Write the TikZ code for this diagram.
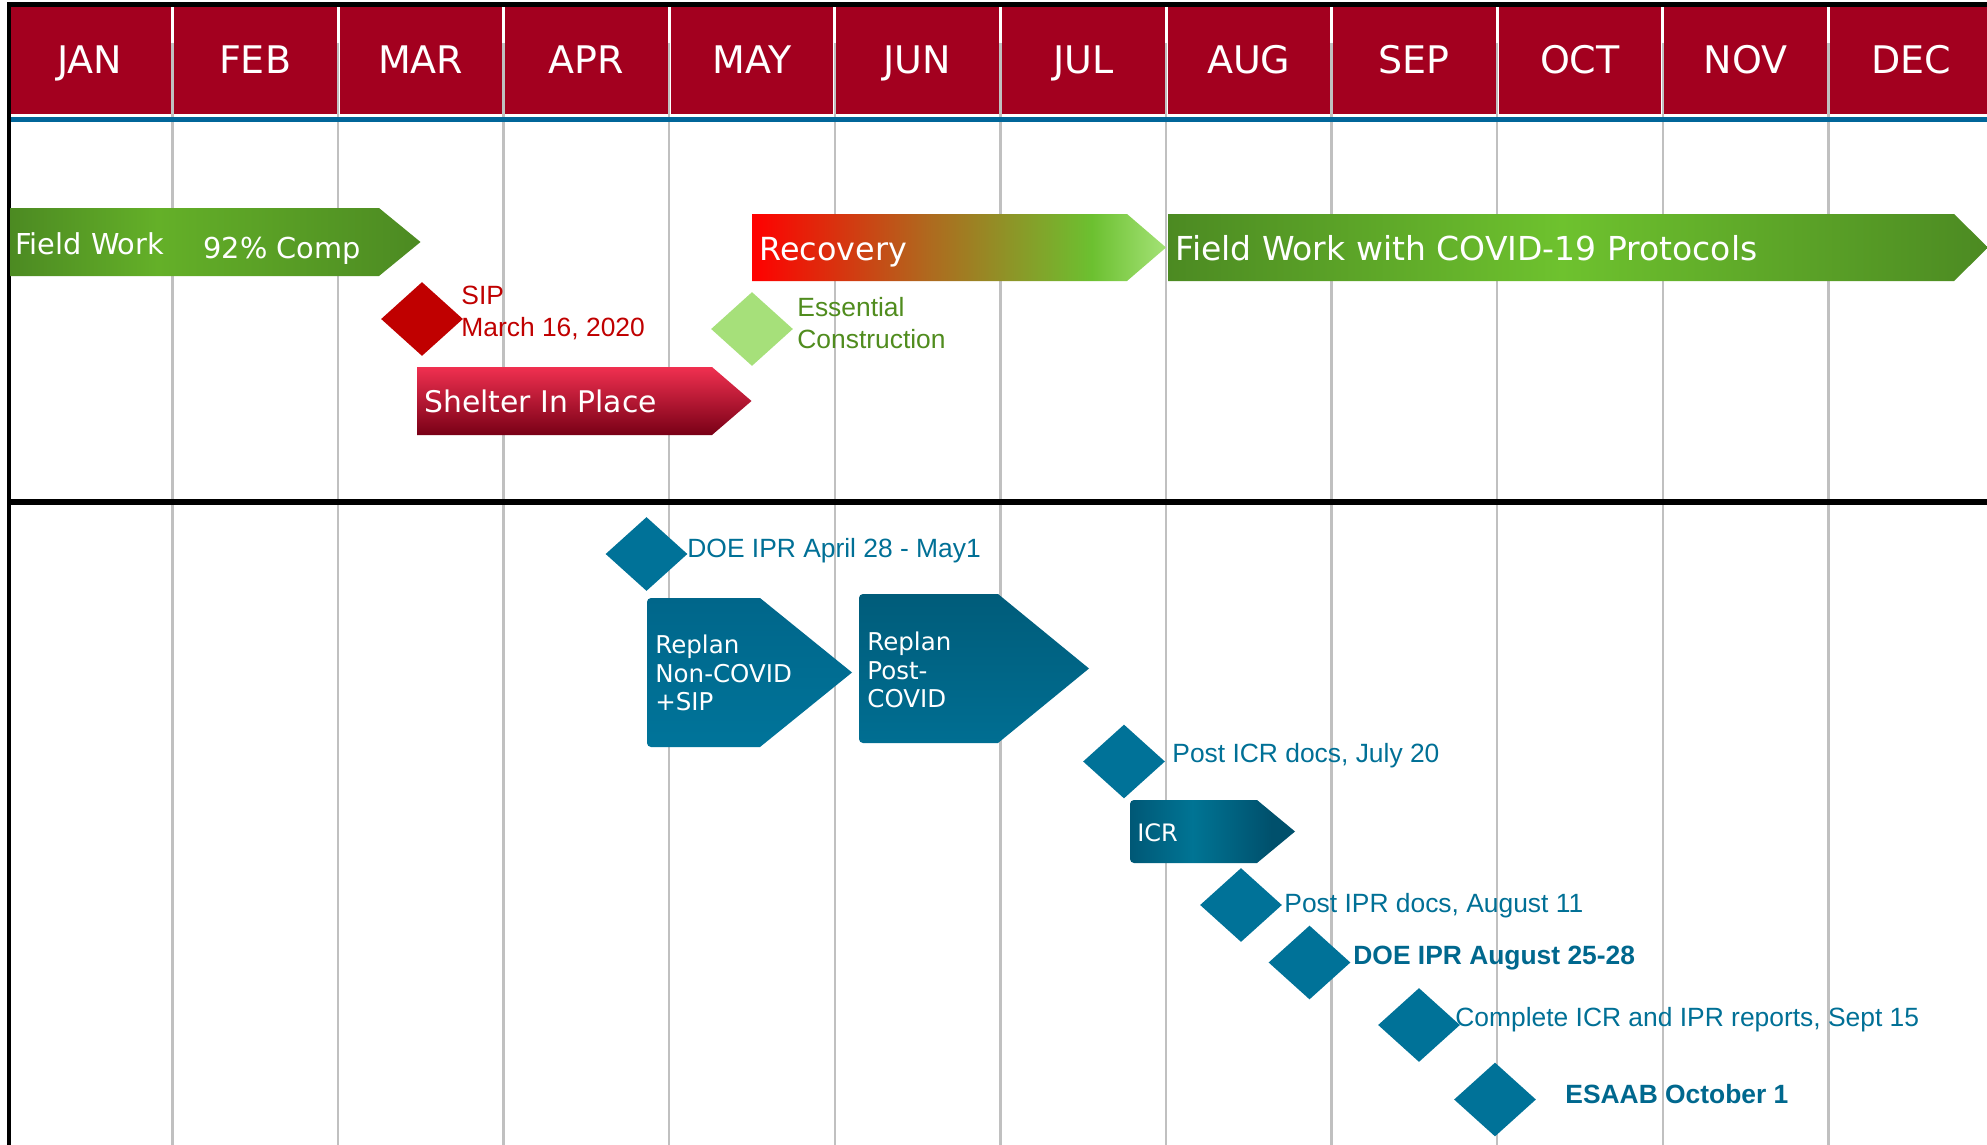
\documentclass[tikz,border=0pt]{standalone}
\usepackage{fontspec}
\setmainfont{Liberation Sans}
\newfontfamily\vfont{DejaVu Sans}
\usetikzlibrary{shapes.geometric}

% palette
\definecolor{hdrred}{RGB}{163,0,31}
\definecolor{rulebl}{RGB}{0,102,153}
\definecolor{gridgray}{RGB}{192,192,192}
\definecolor{fwdark}{RGB}{76,138,34}
\definecolor{fwlight}{RGB}{100,176,40}
\definecolor{fwbright}{RGB}{110,194,46}
\definecolor{recA}{RGB}{255,0,0}
\definecolor{recB}{RGB}{176,104,30}
\definecolor{recC}{RGB}{108,192,48}
\definecolor{recD}{RGB}{164,226,118}
\definecolor{sipTop}{RGB}{240,48,80}
\definecolor{sipMid}{RGB}{190,0,40}
\definecolor{sipBot}{RGB}{120,0,22}
\definecolor{sipred}{RGB}{192,0,0}
\definecolor{essfill}{RGB}{166,224,122}
\definecolor{esstext}{RGB}{80,140,30}
\definecolor{tealA}{RGB}{0,114,152}
\definecolor{tealtext}{RGB}{0,112,150}
\definecolor{tealbold}{RGB}{0,104,142}
\definecolor{rpA}{RGB}{0,102,138}
\definecolor{rpB}{RGB}{0,116,154}
\definecolor{rpC}{RGB}{0,92,122}
\definecolor{rpD}{RGB}{0,110,146}
\definecolor{icrDark}{RGB}{0,88,118}
\definecolor{icrLight}{RGB}{0,116,148}
\definecolor{icrDark2}{RGB}{0,80,108}

% gradients (inner 25bp..75bp span the filled path)
\pgfdeclarehorizontalshading{fwshort}{100bp}{color(0bp)=(fwdark); color(25bp)=(fwdark); color(43bp)=(fwlight); color(75bp)=(fwdark); color(100bp)=(fwdark)}
\pgfdeclarehorizontalshading{fwlong}{100bp}{color(0bp)=(fwdark); color(25bp)=(fwdark); color(49bp)=(fwbright); color(75bp)=(fwdark); color(100bp)=(fwdark)}
\pgfdeclarehorizontalshading{recov}{100bp}{color(0bp)=(recA); color(25bp)=(recA); color(46bp)=(recB); color(66bp)=(recC); color(75bp)=(recD); color(100bp)=(recD)}
\pgfdeclarehorizontalshading{icrshade}{100bp}{color(0bp)=(icrDark); color(25bp)=(icrDark); color(44bp)=(icrLight); color(68bp)=(icrDark2); color(75bp)=(icrDark2); color(100bp)=(icrDark2)}

\tikzset{
  gridline/.style={draw=gridgray, line width=1.2pt},
  month/.style={text=white, font=\vfont\fontsize{19pt}{22pt}\selectfont, inner sep=0, anchor=base},
  lbl/.style={font=\fontsize{13.2pt}{16pt}\selectfont, inner sep=0, anchor=base west},
  barlbl/.style={text=white, inner sep=0, anchor=base west},
  ms/.style={diamond, inner sep=0, minimum width=41pt, minimum height=37pt},
}

\begin{document}
\begin{tikzpicture}[x=0.5pt,y=-0.5pt]
\useasboundingbox (0,0) rectangle (1987,1145);
\fill[white] (0,0) rectangle (1987,1145);

% month header band
\fill[hdrred] (10,7) rectangle (1987,114);
\foreach \k in {0,...,10}{
  \fill[white] ({171+\k*165.6},7) rectangle ({174+\k*165.6},114);
}
% month grid
\foreach \k in {0,...,10}{
  \draw[gridline] ({172.3+\k*165.6},43) -- ({172.3+\k*165.6},1145);
}
\foreach \mon [count=\i from 0] in {JAN,FEB,MAR,APR,MAY,JUN,JUL,AUG,SEP,OCT,NOV,DEC}{
  \node[month] (m\i) at ({89.5+\i*165.6},74) {\mon};
}
\fill[rulebl] (10,117) rectangle (1987,122);

% frame and section rule
\fill[black] (6.5,2) rectangle (1987,7);
\fill[black] (6.5,2) rectangle (10.5,1145);
\fill[black] (6.5,499) rectangle (1987,505);

% --- construction phases ---
\shade[shading=fwshort] (10,208) -- (379,208) -- (420.5,242) -- (379,276) -- (10,276) -- cycle;
\node[barlbl, font=\vfont\fontsize{14.4pt}{17pt}\selectfont] (fw) at (15,254) {Field Work};
\node[barlbl, font=\vfont\fontsize{14.4pt}{17pt}\selectfont] (fwpct) at (203,258) {92\% Comp};

\shade[shading=recov] (752,214) -- (1127,214) -- (1166,247.5) -- (1127,281) -- (752,281) -- cycle;
\node[barlbl, font=\vfont\fontsize{15.9pt}{18pt}\selectfont] (rec) at (759,260) {Recovery};

\shade[shading=fwlong] (1168,214) -- (1954,214) -- (1988,247.5) -- (1954,281) -- (1168,281) -- cycle;
\node[barlbl, font=\vfont\fontsize{16.5pt}{19pt}\selectfont] (fwc) at (1175,260) {Field Work with COVID-19 Protocols};

\shade[top color=sipTop, middle color=sipMid, bottom color=sipBot] (417,367) -- (712,367) -- (751.5,401) -- (712,435) -- (417,435) -- cycle;
\node[barlbl, font=\vfont\fontsize{14.9pt}{18pt}\selectfont] (sip) at (424,412) {Shelter In Place};

\node[ms, fill=sipred] (dSIP) at (422,319) {};
\node[lbl, text=sipred] (sipA) at (461,304) {SIP};
\node[lbl, text=sipred] (sipB) at (461,336) {March 16, 2020};

\node[ms, fill=essfill] (dEss) at (752,329) {};
\node[lbl, text=esstext] (essA) at (797,316) {Essential};
\node[lbl, text=esstext] (essB) at (797,348) {Construction};

% --- review schedule ---
\node[ms, fill=tealA] (dIPR1) at (646.5,554) {};
\node[lbl, text=tealtext] (ipr1) at (687,557) {DOE IPR April 28 - May1};

\shade[top color=rpA, bottom color=rpB] (760,598) -- (852,672.5) -- (760,747) [rounded corners=2pt] -- (647,747) -- (647,598) [sharp corners] -- cycle;
\node[barlbl, font=\vfont\fontsize{12.25pt}{14pt}\selectfont] (rp1a) at (655,653) {Replan};
\node[barlbl, font=\vfont\fontsize{12.25pt}{14pt}\selectfont] (rp1b) at (655,682) {Non-COVID};
\node[barlbl, font=\vfont\fontsize{12.25pt}{14pt}\selectfont] (rp1c) at (655,710) {+SIP};

\shade[top color=rpC, bottom color=rpD] (998,594) -- (1089,668.5) -- (998,743) [rounded corners=2pt] -- (859,743) -- (859,594) [sharp corners] -- cycle;
\node[barlbl, font=\vfont\fontsize{12.25pt}{14pt}\selectfont] (rp2a) at (867,650) {Replan};
\node[barlbl, font=\vfont\fontsize{12.25pt}{14pt}\selectfont] (rp2b) at (867,679) {Post-};
\node[barlbl, font=\vfont\fontsize{12.25pt}{14pt}\selectfont] (rp2c) at (867,707) {COVID};

\node[ms, fill=tealA] (dICR) at (1124,761.5) {};
\node[lbl, text=tealtext] (icrdocs) at (1172,762) {Post ICR docs, July 20};

\shade[shading=icrshade] (1257,800) -- (1295,831.5) -- (1257,863) [rounded corners=2pt] -- (1130,863) -- (1130,800) [sharp corners] -- cycle;
\node[barlbl, font=\vfont\fontsize{12pt}{14pt}\selectfont] (icr) at (1137,841) {ICR};

\node[ms, fill=tealA] (dIPRdocs) at (1241,905) {};
\node[lbl, text=tealtext] (iprdocs) at (1284,912) {Post IPR docs, August 11};

\node[ms, fill=tealA] (dIPR2) at (1309.5,962.5) {};
\node[lbl, text=tealbold, font=\bfseries\fontsize{13.2pt}{16pt}\selectfont] (ipr2) at (1353,964) {DOE IPR August 25-28};

\node[ms, fill=tealA] (dRep) at (1419,1025) {};
\node[lbl, text=tealtext] (rep) at (1455,1026) {Complete ICR and IPR reports, Sept 15};

\node[ms, fill=tealA] (dESAAB) at (1495,1099.5) {};
\node[lbl, text=tealbold, font=\bfseries\fontsize{13.2pt}{16pt}\selectfont] (esaab) at (1565,1103) {ESAAB October 1};
\end{tikzpicture}
\end{document}
